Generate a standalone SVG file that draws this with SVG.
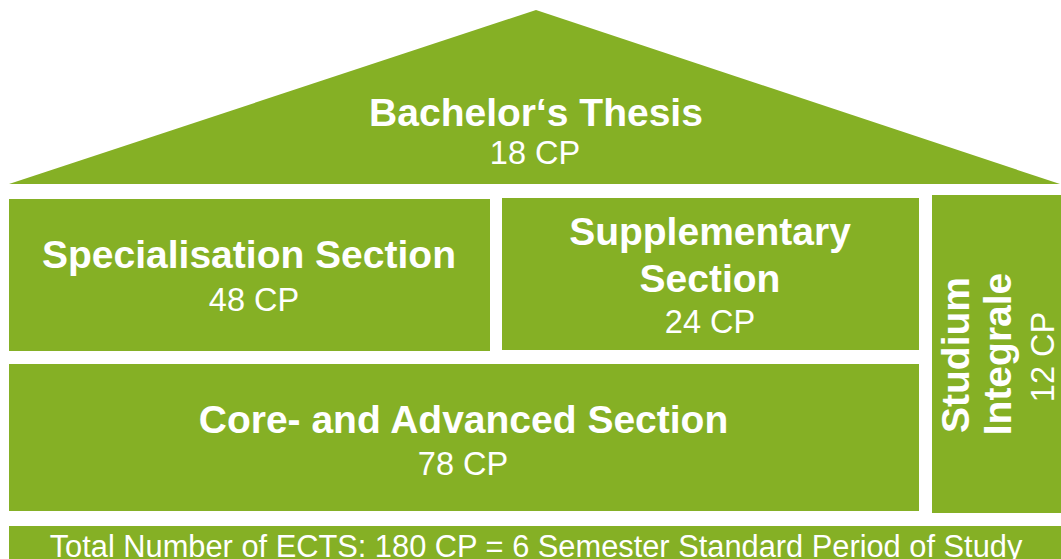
<svg xmlns="http://www.w3.org/2000/svg" width="1061" height="559" viewBox="0 0 1061 559">
  <style>
    .blk { fill: #85B025; }
    .b { font-family: "Liberation Sans", Arial, sans-serif; font-weight: bold; font-size: 39px; fill: #FFFFFF; text-anchor: middle; }
    .r { font-family: "Liberation Sans", Arial, sans-serif; font-size: 32.5px; fill: #FFFFFF; text-anchor: middle; }
    .t { font-family: "Liberation Sans", Arial, sans-serif; font-size: 30.8px; fill: #FFFFFF; text-anchor: middle; }
  </style>
  <rect x="0" y="0" width="1061" height="559" fill="#FFFFFF"/>
  <g id="roof">
    <polygon class="blk" points="9,184 536,10 1060,184"/>
    <text class="b" x="536" y="126">Bachelor‘s Thesis</text>
    <text class="r" x="535" y="164">18 CP</text>
  </g>
  <g id="specialisation">
    <rect class="blk" x="9" y="199" width="481" height="152"/>
    <text class="b" x="249" y="268">Specialisation Section</text>
    <text class="r" x="254" y="311">48 CP</text>
  </g>
  <g id="supplementary">
    <rect class="blk" x="502" y="198" width="417" height="152"/>
    <text class="b" x="710" y="245">Supplementary</text>
    <text class="b" x="710" y="292">Section</text>
    <text class="r" x="710" y="333">24 CP</text>
  </g>
  <g id="studium">
    <rect class="blk" x="932" y="195" width="129" height="318"/>
    <text class="b" transform="translate(969,355) rotate(-90)" x="0" y="0">Studium</text>
    <text class="b" transform="translate(1011,354) rotate(-90)" x="0" y="0">Integrale</text>
    <text class="r" transform="translate(1054,357) rotate(-90)" x="0" y="0">12 CP</text>
  </g>
  <g id="core">
    <rect class="blk" x="9" y="364" width="910" height="147"/>
    <text class="b" x="463.5" y="433">Core- and Advanced Section</text>
    <text class="r" x="463" y="475">78 CP</text>
  </g>
  <g id="total">
    <rect class="blk" x="9" y="526" width="1052" height="33"/>
    <text class="t" x="536" y="557">Total Number of ECTS: 180 CP = 6 Semester Standard Period of Study</text>
  </g>
  <g id="connectors"/>
</svg>
